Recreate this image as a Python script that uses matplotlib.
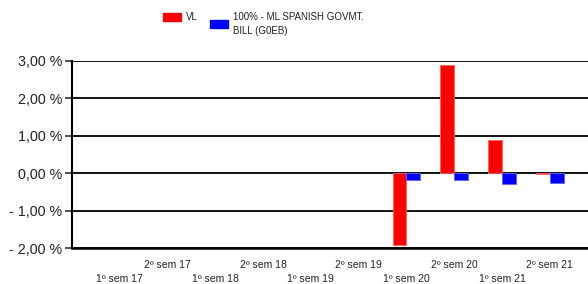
import numpy as np
import matplotlib.pyplot as plt
from matplotlib.patches import Rectangle

plt.rcParams['font.family'] = ['Liberation Sans', 'DejaVu Sans']

periods = ['1º sem 17', '2º sem 17', '1º sem 18', '2º sem 18', '1º sem 19',
           '2º sem 19', '1º sem 20', '2º sem 20', '1º sem 21', '2º sem 21']
vl = [np.nan, np.nan, np.nan, np.nan, np.nan, np.nan, -1.93, 2.89, 0.88, -0.02]
bench = [np.nan, np.nan, np.nan, np.nan, np.nan, np.nan, -0.18, -0.18, -0.29, -0.25]
yticks = [-2, -1, 0, 1, 2, 3]
series_names = ['VL', '100% - ML SPANISH GOVMT.\nBILL (G0EB)']
series_colors = ['#ff0000', '#0000ff']


def pct(v):
    s = f'{abs(v):.2f}'.replace('.', ',') + ' %'
    return '- ' + s if v < 0 else s


W, H = 588, 284
fig = plt.figure(figsize=(W / 100, H / 100), dpi=100)
ax = fig.add_axes([72 / W, 36 / H, 1 - 72 / W, 187 / H])

x = np.arange(len(periods))
w = 0.29
ax.bar(x - w / 2, vl, w, color=series_colors[0], edgecolor='#ff6060', linewidth=0.6, zorder=3)
ax.bar(x + w / 2, bench, w, color=series_colors[1], edgecolor='#6060ff', linewidth=0.6, zorder=3)

ax.set_xlim(-1, 9.8)
ax.set_ylim(-2, 3)
ax.set_yticks(yticks)
ax.set_yticklabels([pct(v) for v in yticks], fontsize=10.3, color='#222222')
ax.tick_params(axis='y', length=5, width=1.2, color='#333333', pad=2)
ax.grid(axis='y', color='#111111', linewidth=1.4, zorder=1)

ax.set_xticks(x)
ax.set_xticklabels(periods, fontsize=7.5, color='#222222')
ax.tick_params(axis='x', length=0)
for i, t in enumerate(ax.xaxis.get_major_ticks()):
    t.set_pad(19 if i % 2 == 0 else 9)

for s in ['top', 'right']:
    ax.spines[s].set_visible(False)
ax.spines['left'].set_linewidth(1.5)
ax.spines['bottom'].set_linewidth(1.8)

# legend drawn by hand to get the two-line entry centred on its swatch
fig.patches.append(Rectangle((163 / W, 1 - 21 / H), 18 / W, 8 / H, color=series_colors[0],
                             transform=fig.transFigure, figure=fig))
fig.text(186 / W, 1 - 17 / H, series_names[0], fontsize=7, va='center', color='#222222')
fig.patches.append(Rectangle((210 / W, 1 - 28 / H), 18 / W, 8 / H, color=series_colors[1],
                             transform=fig.transFigure, figure=fig))
fig.text(233 / W, 1 - 24 / H, series_names[1], fontsize=7, va='center', linespacing=1.45,
         color='#222222')

fig.savefig('out.png', dpi=100)
